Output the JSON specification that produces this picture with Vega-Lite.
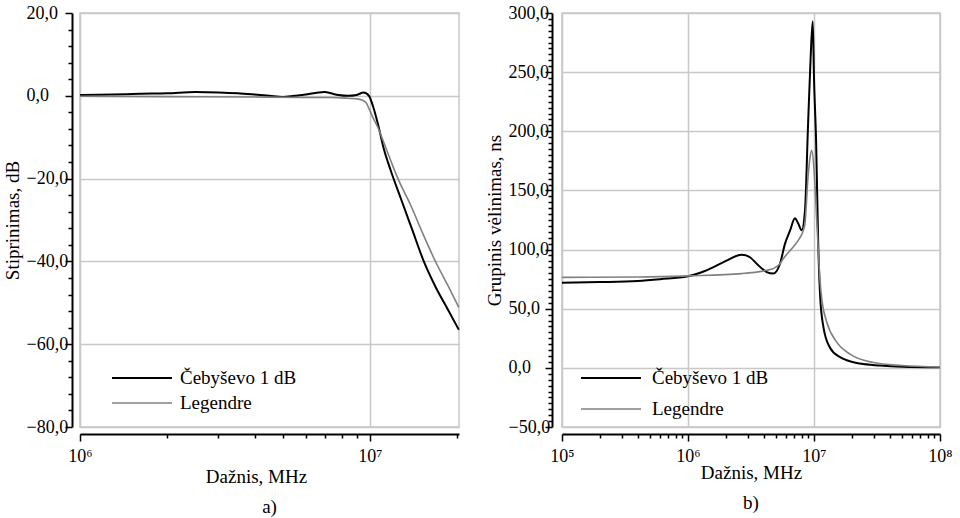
{
  "$schema": "https://vega.github.io/schema/vega-lite/v6.json",
  "padding": {"left": 2, "top": 3, "right": 5, "bottom": 5},
  "spacing": 20,
  "datasets": {
    "amp": [
      {"s": "Čebyševo 1 dB", "f": 1000000, "v": 0.2},
      {"s": "Čebyševo 1 dB", "f": 1300000, "v": 0.3},
      {"s": "Čebyševo 1 dB", "f": 1600000, "v": 0.5},
      {"s": "Čebyševo 1 dB", "f": 2000000, "v": 0.6},
      {"s": "Čebyševo 1 dB", "f": 2500000, "v": 0.9},
      {"s": "Čebyševo 1 dB", "f": 3000000, "v": 0.8},
      {"s": "Čebyševo 1 dB", "f": 3500000, "v": 0.6},
      {"s": "Čebyševo 1 dB", "f": 4000000, "v": 0.3},
      {"s": "Čebyševo 1 dB", "f": 4500000, "v": 0.0},
      {"s": "Čebyševo 1 dB", "f": 5000000, "v": -0.3},
      {"s": "Čebyševo 1 dB", "f": 5500000, "v": 0.0},
      {"s": "Čebyševo 1 dB", "f": 6000000, "v": 0.3},
      {"s": "Čebyševo 1 dB", "f": 6500000, "v": 0.7},
      {"s": "Čebyševo 1 dB", "f": 7000000, "v": 0.9},
      {"s": "Čebyševo 1 dB", "f": 7340000, "v": 0.6},
      {"s": "Čebyševo 1 dB", "f": 7800000, "v": 0.2},
      {"s": "Čebyševo 1 dB", "f": 8400000, "v": 0.0},
      {"s": "Čebyševo 1 dB", "f": 9000000, "v": 0.2},
      {"s": "Čebyševo 1 dB", "f": 9530000, "v": 0.8},
      {"s": "Čebyševo 1 dB", "f": 9930000, "v": 0.0},
      {"s": "Čebyševo 1 dB", "f": 10240000, "v": -2.4},
      {"s": "Čebyševo 1 dB", "f": 10660000, "v": -6.8},
      {"s": "Čebyševo 1 dB", "f": 11170000, "v": -12.8},
      {"s": "Čebyševo 1 dB", "f": 11810000, "v": -18.1},
      {"s": "Čebyševo 1 dB", "f": 12790000, "v": -24.8},
      {"s": "Čebyševo 1 dB", "f": 13960000, "v": -32.1},
      {"s": "Čebyševo 1 dB", "f": 15350000, "v": -40},
      {"s": "Čebyševo 1 dB", "f": 16890000, "v": -46.3},
      {"s": "Čebyševo 1 dB", "f": 18580000, "v": -51.6},
      {"s": "Čebyševo 1 dB", "f": 20270000, "v": -56.5},
      {"s": "Legendre", "f": 1000000, "v": -0.1},
      {"s": "Legendre", "f": 2000000, "v": -0.2},
      {"s": "Legendre", "f": 4000000, "v": -0.3},
      {"s": "Legendre", "f": 6000000, "v": -0.4},
      {"s": "Legendre", "f": 7340000, "v": -0.4},
      {"s": "Legendre", "f": 8400000, "v": -0.6},
      {"s": "Legendre", "f": 9160000, "v": -0.8},
      {"s": "Legendre", "f": 9690000, "v": -1.6},
      {"s": "Legendre", "f": 9930000, "v": -3.1},
      {"s": "Legendre", "f": 10240000, "v": -5.2},
      {"s": "Legendre", "f": 10660000, "v": -7.65},
      {"s": "Legendre", "f": 11170000, "v": -11.3},
      {"s": "Legendre", "f": 11810000, "v": -15.7},
      {"s": "Legendre", "f": 12500000, "v": -20.0},
      {"s": "Legendre", "f": 13850000, "v": -26.5},
      {"s": "Legendre", "f": 15230000, "v": -33.3},
      {"s": "Legendre", "f": 16890000, "v": -40.2},
      {"s": "Legendre", "f": 18580000, "v": -45.8},
      {"s": "Legendre", "f": 20270000, "v": -51.1}
    ],
    "gd": [
      {"s": "Čebyševo 1 dB", "f": 100000, "v": 72},
      {"s": "Čebyševo 1 dB", "f": 200000, "v": 72.5},
      {"s": "Čebyševo 1 dB", "f": 400000, "v": 73.5},
      {"s": "Čebyševo 1 dB", "f": 600000, "v": 75},
      {"s": "Čebyševo 1 dB", "f": 1000000, "v": 77.4},
      {"s": "Čebyševo 1 dB", "f": 1300000, "v": 81},
      {"s": "Čebyševo 1 dB", "f": 1580000, "v": 85},
      {"s": "Čebyševo 1 dB", "f": 2000000, "v": 90.5},
      {"s": "Čebyševo 1 dB", "f": 2670000, "v": 95.6},
      {"s": "Čebyševo 1 dB", "f": 3100000, "v": 93.5},
      {"s": "Čebyševo 1 dB", "f": 3510000, "v": 88},
      {"s": "Čebyševo 1 dB", "f": 4210000, "v": 81},
      {"s": "Čebyševo 1 dB", "f": 4760000, "v": 79.7},
      {"s": "Čebyševo 1 dB", "f": 5370000, "v": 88},
      {"s": "Čebyševo 1 dB", "f": 5890000, "v": 105},
      {"s": "Čebyševo 1 dB", "f": 6450000, "v": 116},
      {"s": "Čebyševo 1 dB", "f": 7060000, "v": 126.5},
      {"s": "Čebyševo 1 dB", "f": 7500000, "v": 122},
      {"s": "Čebyševo 1 dB", "f": 7980000, "v": 116.4},
      {"s": "Čebyševo 1 dB", "f": 8480000, "v": 133},
      {"s": "Čebyševo 1 dB", "f": 8960000, "v": 204},
      {"s": "Čebyševo 1 dB", "f": 9400000, "v": 262},
      {"s": "Čebyševo 1 dB", "f": 9770000, "v": 293},
      {"s": "Čebyševo 1 dB", "f": 10000000, "v": 245},
      {"s": "Čebyševo 1 dB", "f": 10400000, "v": 190},
      {"s": "Čebyševo 1 dB", "f": 10800000, "v": 105},
      {"s": "Čebyševo 1 dB", "f": 11200000, "v": 60},
      {"s": "Čebyševo 1 dB", "f": 11900000, "v": 34},
      {"s": "Čebyševo 1 dB", "f": 13400000, "v": 17},
      {"s": "Čebyševo 1 dB", "f": 16100000, "v": 9},
      {"s": "Čebyševo 1 dB", "f": 23200000, "v": 3.6},
      {"s": "Čebyševo 1 dB", "f": 33400000, "v": 2},
      {"s": "Čebyševo 1 dB", "f": 50000000, "v": 1},
      {"s": "Čebyševo 1 dB", "f": 100000000, "v": 0.5},
      {"s": "Legendre", "f": 100000, "v": 76.5},
      {"s": "Legendre", "f": 400000, "v": 76.8},
      {"s": "Legendre", "f": 1000000, "v": 77.8},
      {"s": "Legendre", "f": 2670000, "v": 79.7},
      {"s": "Legendre", "f": 4210000, "v": 82.5},
      {"s": "Legendre", "f": 4760000, "v": 84},
      {"s": "Legendre", "f": 5370000, "v": 88},
      {"s": "Legendre", "f": 5680000, "v": 92},
      {"s": "Legendre", "f": 6810000, "v": 102},
      {"s": "Legendre", "f": 7740000, "v": 110},
      {"s": "Legendre", "f": 8220000, "v": 116},
      {"s": "Legendre", "f": 8480000, "v": 122},
      {"s": "Legendre", "f": 8960000, "v": 161},
      {"s": "Legendre", "f": 9300000, "v": 178},
      {"s": "Legendre", "f": 9590000, "v": 184},
      {"s": "Legendre", "f": 10000000, "v": 168},
      {"s": "Legendre", "f": 10400000, "v": 135},
      {"s": "Legendre", "f": 10800000, "v": 100},
      {"s": "Legendre", "f": 11200000, "v": 72},
      {"s": "Legendre", "f": 11600000, "v": 56},
      {"s": "Legendre", "f": 12600000, "v": 39},
      {"s": "Legendre", "f": 15100000, "v": 22},
      {"s": "Legendre", "f": 19300000, "v": 11.6},
      {"s": "Legendre", "f": 29600000, "v": 4.5},
      {"s": "Legendre", "f": 50000000, "v": 2},
      {"s": "Legendre", "f": 100000000, "v": 0.8}
    ]
  },
  "hconcat": [
    {
      "width": 379,
      "height": 414,
      "view": {"stroke": "#c8c8c8", "strokeWidth": 1.5},
      "data": {"name": "amp"},
      "title": {"text": "a)", "orient": "bottom", "font": "Liberation Serif, serif", "fontSize": 19, "fontWeight": "normal", "color": "#000", "frame": "group", "anchor": "middle", "offset": 12},
      "mark": {"type": "line", "interpolate": "monotone"},
      "encoding": {
        "x": {
          "field": "f", "type": "quantitative",
          "scale": {"type": "log", "domain": [1000000, 20300000], "nice": false},
          "axis": {
            "title": "Dažnis, MHz", "titleFont": "Liberation Serif, serif", "titleFontWeight": "normal", "titleColor": "#000", "titleFontSize": 19, "titlePadding": 2, "titleX": 176,
            "values": [1000000, 2000000, 3000000, 4000000, 5000000, 6000000, 7000000, 8000000, 9000000, 10000000, 20000000],
            "labelExpr": "datum.value == 1000000 ? '10⁶' : datum.value == 10000000 ? '10⁷' : ''",
            "labelFont": "Liberation Serif, serif", "labelColor": "#000", "labelFontSize": 18, "labelPadding": 6, "labelOverlap": false, "labelFlush": false, "offset": 7,
            "domainColor": "#000", "domainWidth": 2, "tickColor": "#000", "tickWidth": 1.5,
            "grid": true, "gridColor": "#c8c8c8", "gridWidth": 1.5,
            "gridOpacity": {"condition": {"test": "datum.value == 1000000 || datum.value == 10000000", "value": 1}, "value": 0},
            "tickSize": {"condition": {"test": "datum.value == 1000000 || datum.value == 10000000", "value": 7}, "value": 4}
          }
        },
        "y": {
          "field": "v", "type": "quantitative",
          "scale": {"domain": [-80, 20], "nice": false},
          "axis": {
            "title": "Stiprinimas, dB", "titleFont": "Liberation Serif, serif", "titleFontWeight": "normal", "titleColor": "#000", "titleFontSize": 19, "titlePadding": 4,
            "values": [-80, -76, -72, -68, -64, -60, -56, -52, -48, -44, -40, -36, -32, -28, -24, -20, -16, -12, -8, -4, 0, 4, 8, 12, 16, 20],
            "labelExpr": "datum.value % 20 == 0 ? replace(format(datum.value, '.1f'), '.', ',') : ''",
            "labelFont": "Liberation Serif, serif", "labelColor": "#000", "labelFontSize": 18, "labelAlign": "left", "labelPadding": 39, "labelOverlap": false, "labelFlush": false, "offset": 8,
            "domainColor": "#000", "domainWidth": 2, "tickColor": "#000", "tickWidth": 1.5,
            "grid": true, "gridColor": "#c8c8c8", "gridWidth": 1.5,
            "gridOpacity": {"condition": {"test": "datum.value % 20 == 0", "value": 1}, "value": 0},
            "tickSize": {"condition": {"test": "datum.value % 20 == 0", "value": 7}, "value": 4}
          }
        },
        "color": {
          "field": "s", "type": "nominal",
          "scale": {"domain": ["Čebyševo 1 dB", "Legendre"], "range": ["#000000", "#808080"]},
          "legend": {"orient": "none", "legendX": 51, "legendY": 354, "title": null, "symbolType": "M-3,0H3", "symbolSize": 400, "symbolStrokeWidth": 2.5, "labelFont": "Liberation Serif, serif", "labelColor": "#000", "labelFontSize": 19, "labelOffset": 27, "rowPadding": 4}
        },
        "strokeWidth": {
          "field": "s", "type": "ordinal",
          "scale": {"domain": ["Čebyševo 1 dB", "Legendre"], "range": [2, 1.6]},
          "legend": null
        }
      }
    },
    {
      "width": 378,
      "height": 414,
      "view": {"stroke": "#c8c8c8", "strokeWidth": 1.5},
      "data": {"name": "gd"},
      "title": {"text": "b)", "orient": "bottom", "font": "Liberation Serif, serif", "fontSize": 19, "fontWeight": "normal", "color": "#000", "frame": "group", "anchor": "middle", "offset": 12},
      "mark": {"type": "line", "interpolate": "monotone"},
      "encoding": {
        "x": {
          "field": "f", "type": "quantitative",
          "scale": {"type": "log", "domain": [100000, 100000000], "nice": false},
          "axis": {
            "title": "Dažnis, MHz", "titleFont": "Liberation Serif, serif", "titleFontWeight": "normal", "titleColor": "#000", "titleFontSize": 19, "titlePadding": -2,
            "values": [100000, 200000, 300000, 400000, 500000, 600000, 700000, 800000, 900000, 1000000, 2000000, 3000000, 4000000, 5000000, 6000000, 7000000, 8000000, 9000000, 10000000, 20000000, 30000000, 40000000, 50000000, 60000000, 70000000, 80000000, 90000000, 100000000],
            "labelExpr": "datum.value == 100000 ? '10⁵' : datum.value == 1000000 ? '10⁶' : datum.value == 10000000 ? '10⁷' : datum.value == 100000000 ? '10⁸' : ''",
            "labelFont": "Liberation Serif, serif", "labelColor": "#000", "labelFontSize": 18, "labelPadding": 6, "labelOverlap": false, "labelFlush": false, "offset": 7,
            "domainColor": "#000", "domainWidth": 2, "tickColor": "#000", "tickWidth": 1.5,
            "grid": true, "gridColor": "#c8c8c8", "gridWidth": 1.5,
            "gridOpacity": {"condition": {"test": "datum.value == 100000 || datum.value == 1000000 || datum.value == 10000000 || datum.value == 100000000", "value": 1}, "value": 0},
            "tickSize": {"condition": {"test": "datum.value == 100000 || datum.value == 1000000 || datum.value == 10000000 || datum.value == 100000000", "value": 7}, "value": 4}
          }
        },
        "y": {
          "field": "v", "type": "quantitative",
          "scale": {"domain": [-50, 300], "nice": false},
          "axis": {
            "title": "Grupinis vėlinimas, ns", "titleFont": "Liberation Serif, serif", "titleFontWeight": "normal", "titleColor": "#000", "titleFontSize": 19, "titlePadding": 4,
            "values": [-50, -45, -40, -35, -30, -25, -20, -15, -10, -5, 0, 5, 10, 15, 20, 25, 30, 35, 40, 45, 50, 55, 60, 65, 70, 75, 80, 85, 90, 95, 100, 105, 110, 115, 120, 125, 130, 135, 140, 145, 150, 155, 160, 165, 170, 175, 180, 185, 190, 195, 200, 205, 210, 215, 220, 225, 230, 235, 240, 245, 250, 255, 260, 265, 270, 275, 280, 285, 290, 295, 300],
            "labelExpr": "datum.value % 50 == 0 ? replace(format(datum.value, '.1f'), '.', ',') : ''",
            "labelFont": "Liberation Serif, serif", "labelColor": "#000", "labelFontSize": 18, "labelAlign": "left", "labelPadding": 37, "labelOverlap": false, "labelFlush": false, "offset": 10,
            "domainColor": "#000", "domainWidth": 2, "tickColor": "#000", "tickWidth": 1.5,
            "grid": true, "gridColor": "#c8c8c8", "gridWidth": 1.5,
            "gridOpacity": {"condition": {"test": "datum.value % 50 == 0", "value": 1}, "value": 0},
            "tickSize": {"condition": {"test": "datum.value % 50 == 0", "value": 7}, "value": 4}
          }
        },
        "color": {
          "field": "s", "type": "nominal",
          "scale": {"domain": ["Čebyševo 1 dB", "Legendre"], "range": ["#000000", "#808080"]},
          "legend": {"orient": "none", "legendX": 38, "legendY": 354, "title": null, "symbolType": "M-3,0H3", "symbolSize": 400, "symbolStrokeWidth": 2.5, "labelFont": "Liberation Serif, serif", "labelColor": "#000", "labelFontSize": 19, "labelOffset": 30, "rowPadding": 10}
        },
        "strokeWidth": {
          "field": "s", "type": "ordinal",
          "scale": {"domain": ["Čebyševo 1 dB", "Legendre"], "range": [2, 1.6]},
          "legend": null
        }
      }
    }
  ],
  "resolve": {"scale": {"color": "independent", "strokeWidth": "independent", "x": "independent", "y": "independent"}}
}
